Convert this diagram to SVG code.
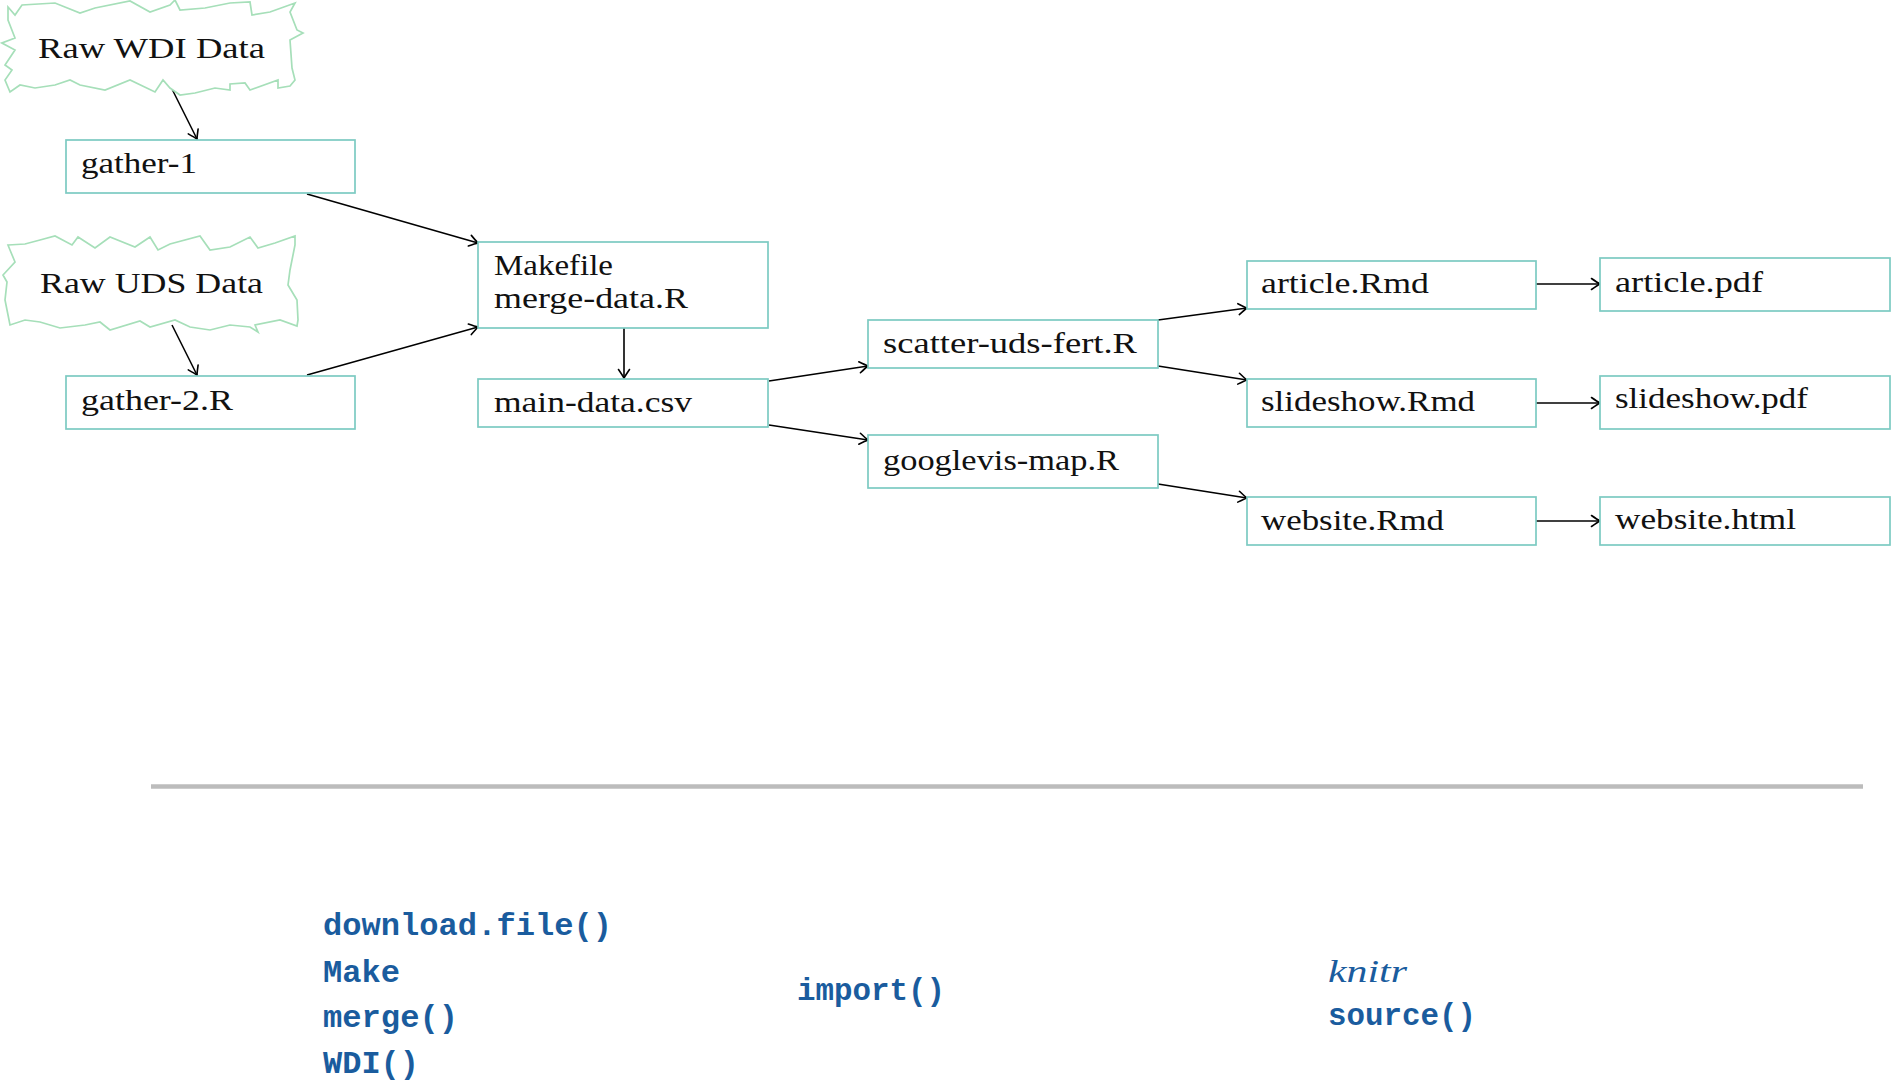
<svg xmlns="http://www.w3.org/2000/svg" width="1891" height="1090" viewBox="0 0 1891 1090">
<style>
.box{fill:#fff;stroke:#7ccac2;stroke-width:1.7}
.cloud{fill:#fff;stroke:#a6dfb9;stroke-width:1.7;stroke-linejoin:miter}
.lbl{font-family:"Liberation Serif","Times New Roman",serif;font-size:30px;fill:#111}
.code{font-family:"Liberation Mono","Courier New",monospace;font-size:32px;font-weight:bold;fill:#1a5c9e}
.ital{font-family:"Liberation Serif","Times New Roman",serif;font-style:italic;font-size:31px;fill:#1a5c9e}
.edge{stroke:#000;stroke-width:1.6;fill:none;marker-end:url(#tip)}
</style>
<defs>
<marker id="tip" viewBox="-10 -7 12 14" refX="0" refY="0" markerWidth="12" markerHeight="14" markerUnits="userSpaceOnUse" orient="auto">
<path d="M-8.5,-5.5 Q-2.5,-1.4 0,0 Q-2.5,1.4 -8.5,5.5" fill="none" stroke="#000" stroke-width="1.6" stroke-linecap="round"/>
</marker>
</defs>
<rect width="1891" height="1090" fill="#fff"/>

<g id="connectors">
<line class="edge" x1="172" y1="89" x2="197" y2="139"/>
<line class="edge" x1="172" y1="325" x2="197" y2="375"/>
<line class="edge" x1="307" y1="194" x2="478" y2="243"/>
<line class="edge" x1="307" y1="375" x2="478" y2="327"/>
<line class="edge" x1="624" y1="328" x2="624" y2="378"/>
<line class="edge" x1="769" y1="381" x2="868" y2="366"/>
<line class="edge" x1="769" y1="425" x2="868" y2="440"/>
<line class="edge" x1="1158" y1="320" x2="1247" y2="308"/>
<line class="edge" x1="1158" y1="366" x2="1247" y2="380"/>
<line class="edge" x1="1158" y1="484" x2="1247" y2="498"/>
<line class="edge" x1="1536" y1="284" x2="1600" y2="284"/>
<line class="edge" x1="1536" y1="403" x2="1600" y2="403"/>
<line class="edge" x1="1536" y1="521" x2="1600" y2="521"/>
</g>

<g id="raw-wdi">
<polygon class="cloud" points="8,7 15,15 22,5 55,3 80,13 95,8 130,1 150,12 170,5 175,0 180,10 205,8 230,3 250,2 252,15 270,12 295,3 290,12 297,30 303,33 290,40 292,68 295,80 290,86 278,88 278,80 250,90 245,83 230,84 230,90 215,88 195,93 180,95 170,88 163,80 155,92 130,80 105,90 80,85 70,80 55,85 35,88 20,85 10,92 5,80 12,70 5,65 15,50 2,43 15,38 8,20"/>
<text class="lbl" x="38" y="58" textLength="227" lengthAdjust="spacingAndGlyphs">Raw WDI Data</text>
</g>

<g id="raw-uds">
<polygon class="cloud" points="8,245 25,244 40,240 55,236 72,245 78,237 95,248 110,237 135,247 150,237 158,250 170,244 200,236 210,250 230,247 250,237 258,248 275,243 295,236 295,245 290,270 288,285 297,300 298,320 297,326 280,320 255,325 258,332 250,327 230,325 210,330 190,327 175,320 150,327 140,321 110,330 100,322 85,325 60,328 40,322 25,320 10,325 5,300 7,282 3,275 15,262 10,250"/>
<text class="lbl" x="40" y="293" textLength="223" lengthAdjust="spacingAndGlyphs">Raw UDS Data</text>
</g>

<g id="gather-1">
<rect class="box" x="66" y="140" width="289" height="53"/>
<text class="lbl" x="81" y="173" textLength="116" lengthAdjust="spacingAndGlyphs">gather-1</text>
</g>

<g id="gather-2">
<rect class="box" x="66" y="376" width="289" height="53"/>
<text class="lbl" x="81" y="410" textLength="152" lengthAdjust="spacingAndGlyphs">gather-2.R</text>
</g>

<g id="makefile">
<rect class="box" x="478" y="242" width="290" height="86"/>
<text class="lbl" x="494" y="275" textLength="119" lengthAdjust="spacingAndGlyphs">Makefile</text>
<text class="lbl" x="494" y="308" textLength="194" lengthAdjust="spacingAndGlyphs">merge-data.R</text>
</g>

<g id="main-data">
<rect class="box" x="478" y="379" width="290" height="48"/>
<text class="lbl" x="494" y="412" textLength="198" lengthAdjust="spacingAndGlyphs">main-data.csv</text>
</g>

<g id="scatter">
<rect class="box" x="868" y="320" width="290" height="48"/>
<text class="lbl" x="883" y="353" textLength="254" lengthAdjust="spacingAndGlyphs">scatter-uds-fert.R</text>
</g>

<g id="googlevis">
<rect class="box" x="868" y="435" width="290" height="53"/>
<text class="lbl" x="883" y="470" textLength="236" lengthAdjust="spacingAndGlyphs">googlevis-map.R</text>
</g>

<g id="article-rmd">
<rect class="box" x="1247" y="261" width="289" height="48"/>
<text class="lbl" x="1261" y="293" textLength="168" lengthAdjust="spacingAndGlyphs">article.Rmd</text>
</g>

<g id="article-pdf">
<rect class="box" x="1600" y="258" width="290" height="53"/>
<text class="lbl" x="1615" y="292" textLength="148" lengthAdjust="spacingAndGlyphs">article.pdf</text>
</g>

<g id="slideshow-rmd">
<rect class="box" x="1247" y="379" width="289" height="48"/>
<text class="lbl" x="1261" y="411" textLength="214" lengthAdjust="spacingAndGlyphs">slideshow.Rmd</text>
</g>

<g id="slideshow-pdf">
<rect class="box" x="1600" y="376" width="290" height="53"/>
<text class="lbl" x="1615" y="408" textLength="193" lengthAdjust="spacingAndGlyphs">slideshow.pdf</text>
</g>

<g id="website-rmd">
<rect class="box" x="1247" y="497" width="289" height="48"/>
<text class="lbl" x="1261" y="530" textLength="183" lengthAdjust="spacingAndGlyphs">website.Rmd</text>
</g>

<g id="website-html">
<rect class="box" x="1600" y="497" width="290" height="48"/>
<text class="lbl" x="1615" y="529" textLength="181" lengthAdjust="spacingAndGlyphs">website.html</text>
</g>

<line x1="151" y1="786.5" x2="1863" y2="786.5" stroke="#bcbcbc" stroke-width="4.5"/>

<g id="tools">
<text class="code" x="323" y="935" textLength="289" lengthAdjust="spacingAndGlyphs">download.file()</text>
<text class="code" x="323" y="982" textLength="77" lengthAdjust="spacingAndGlyphs">Make</text>
<text class="code" x="323" y="1027" textLength="135" lengthAdjust="spacingAndGlyphs">merge()</text>
<text class="code" x="323" y="1073" textLength="96" lengthAdjust="spacingAndGlyphs">WDI()</text>
<text class="code" x="797" y="1000" textLength="148" lengthAdjust="spacingAndGlyphs">import()</text>
<text class="ital" x="1328" y="982" textLength="79" lengthAdjust="spacingAndGlyphs">knitr</text>
<text class="code" x="1328" y="1025" textLength="148" lengthAdjust="spacingAndGlyphs">source()</text>
</g>
</svg>
